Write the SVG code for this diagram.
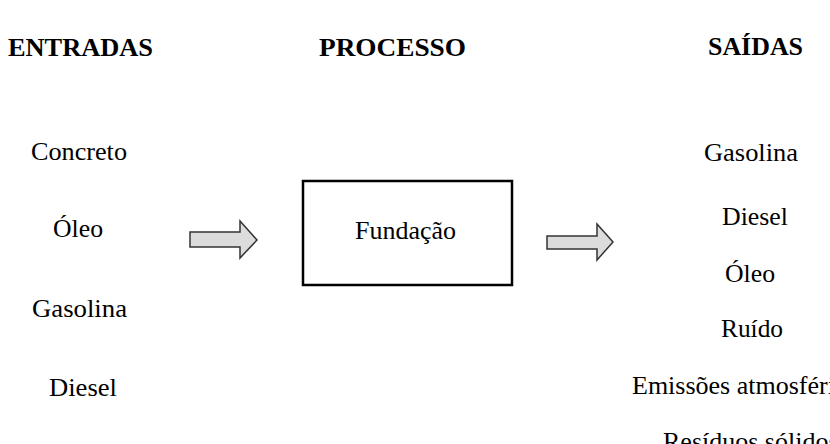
<svg xmlns="http://www.w3.org/2000/svg" width="830" height="444" viewBox="0 0 830 444">
<style>
.h{font-family:"Liberation Serif","Times New Roman",serif;font-weight:bold;font-size:26px;fill:#000}
.t{font-family:"Liberation Serif","Times New Roman",serif;font-size:26px;fill:#000}
.arr{fill:#dcdcdc;stroke:#333;stroke-width:1.5;stroke-linejoin:miter}
</style>
<rect width="830" height="444" fill="#fff"/>
<g id="headers">
<text class="h" x="8" y="56" textLength="145" lengthAdjust="spacingAndGlyphs">ENTRADAS</text>
<text class="h" x="319" y="56" textLength="147" lengthAdjust="spacingAndGlyphs">PROCESSO</text>
<text class="h" x="708" y="55" textLength="95" lengthAdjust="spacingAndGlyphs">SAÍDAS</text>
</g>
<g id="entradas">
<text class="t" x="31" y="160" textLength="96" lengthAdjust="spacingAndGlyphs">Concreto</text>
<text class="t" x="53" y="237" textLength="50" lengthAdjust="spacingAndGlyphs">Óleo</text>
<text class="t" x="32" y="317" textLength="95" lengthAdjust="spacingAndGlyphs">Gasolina</text>
<text class="t" x="49" y="396" textLength="68" lengthAdjust="spacingAndGlyphs">Diesel</text>
</g>
<g id="processo">
<rect x="303" y="181" width="209" height="104" fill="#fff" stroke="#000" stroke-width="2.5"/>
<text class="t" x="355" y="239" textLength="101" lengthAdjust="spacingAndGlyphs">Fundação</text>
</g>
<g id="saidas">
<text class="t" x="704" y="161" textLength="94" lengthAdjust="spacingAndGlyphs">Gasolina</text>
<text class="t" x="722" y="225" textLength="66" lengthAdjust="spacingAndGlyphs">Diesel</text>
<text class="t" x="725" y="282" textLength="50" lengthAdjust="spacingAndGlyphs">Óleo</text>
<text class="t" x="721" y="337" textLength="62" lengthAdjust="spacingAndGlyphs">Ruído</text>
<text class="t" x="632" y="394">Emissões atmosféricas</text>
<text class="t" x="663" y="450">Resíduos sólidos</text>
</g>
<g id="connectors">
<polygon class="arr" points="190,232 240,232 240,221 257,240 240,258 240,247 190,247"/>
<polygon class="arr" points="547,236 597,236 597,224 613,242 597,260 597,249 547,249"/>
</g>
</svg>
